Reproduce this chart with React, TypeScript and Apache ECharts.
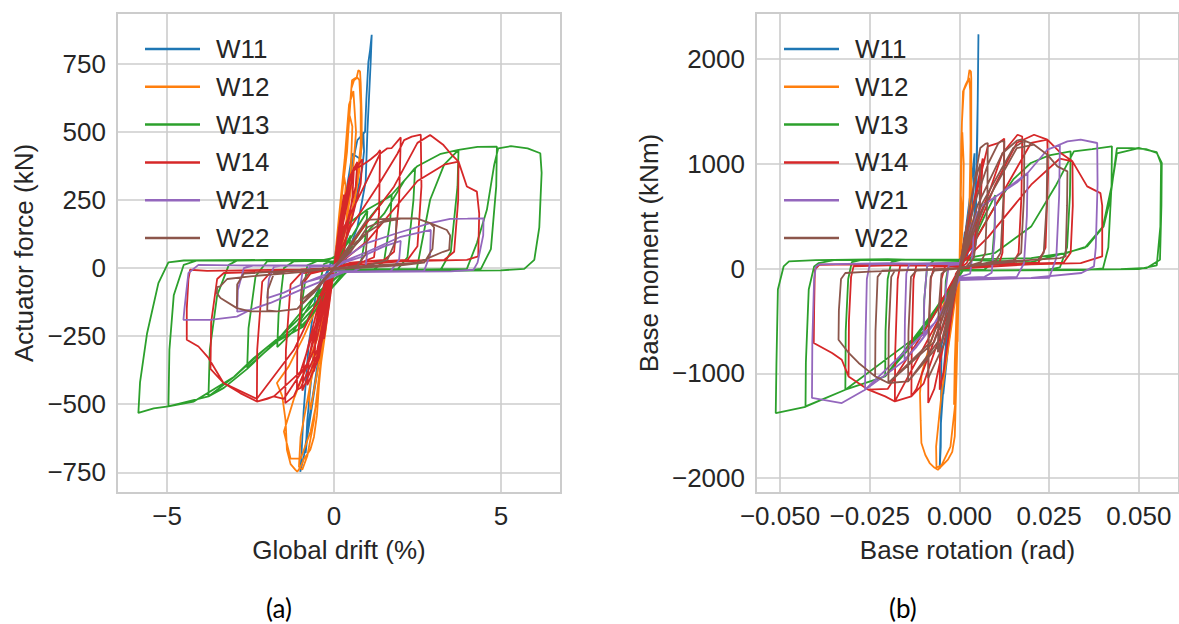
import React, { useEffect, useRef } from "react";
import * as echarts from "echarts";

const seriesNames = ["W11", "W12", "W13", "W14", "W21", "W22"];
const seriesColors = ["#1f77b4", "#ff7f0e", "#2ca02c", "#d62728", "#9467bd", "#8c564b"];

const driftTicks = [-5, 0, 5];
const forceTicks = [-750, -500, -250, 0, 250, 500, 750];
const rotationTicks = [-0.05, -0.025, 0, 0.025, 0.05];
const momentTicks = [-2000, -1000, 0, 1000, 2000];
const panelLabels = ["(a)", "(b)"];

type P = [number, number];

// ---------- Panel (a): global drift (%) vs actuator force (kN) ----------
const w11Drift: P[] = [
  [0, 0], [0.15, 120], [0.3, 260], [0.27, 200], [0.1, 40], [0, 0], [-0.15, -110], [-0.3, -250], [-0.27, -180], [-0.1, -30], [0, 0],
  [0.3, 230], [0.55, 420], [0.78, 402], [0.88, 500], [0.9, 430], [0.85, 370], [0.6, 220], [0.25, 40], [0, 0],
  [-0.3, -220], [-0.55, -420], [-0.8, -620], [-0.85, -680], [-0.8, -560], [-0.6, -300], [-0.3, -60], [-0.1, 20], [0, 10],
  [0.05, 60], [0.35, 260], [0.7, 470], [0.93, 500], [0.97, 620], [1.03, 757], [1.08, 800], [1.13, 857], [1.1, 760], [1.0, 500], [0.95, 320], [0.7, 150], [0.3, 20], [0, 0],
  [-0.4, -280], [-0.7, -520], [-0.9, -690], [-1.01, -748], [-0.98, -700], [-0.91, -527], [-0.76, -283], [-0.55, -100], [-0.2, -10], [0, 0],
];
const w12Drift: P[] = [
  [0, 0], [0.1, 110], [0.22, 260], [0.3, 340], [0.35, 300], [0.25, 150], [0.1, 30], [0, 0],
  [-0.1, -80], [-0.25, -230], [-0.4, -360], [-0.45, -300], [-0.3, -130], [-0.1, -20], [0, 0],
  [0.12, 150], [0.28, 330], [0.4, 480], [0.47, 560], [0.55, 520], [0.5, 350], [0.35, 150], [0.15, 30], [0, 0],
  [-0.2, -150], [-0.5, -380], [-0.7, -520], [-0.75, -470], [-0.55, -250], [-0.25, -60], [0, 0],
  [0.15, 190], [0.32, 400], [0.45, 600], [0.58, 650], [0.66, 500], [0.55, 330], [0.35, 140], [0.1, 20], [0, 0],
  [0.2, 230], [0.39, 427], [0.48, 600], [0.54, 690], [0.6, 695], [0.68, 700], [0.73, 727], [0.78, 722], [0.8, 680], [0.83, 560], [0.83, 451], [0.75, 350], [0.63, 256], [0.45, 150], [0.25, 60], [0, 0],
  [-0.4, -110], [-0.9, -250], [-1.35, -360], [-1.71, -422], [-1.55, -470], [-1.45, -560], [-1.41, -667], [-1.3, -720], [-1.16, -740], [-1.1, -748], [-1.0, -730], [-0.91, -703], [-0.71, -667], [-0.6, -620], [-0.51, -540], [-0.45, -430], [-0.35, -300], [-0.21, -165], [-0.1, -60], [0, 0],
  [0.2, 220], [0.4, 450], [0.52, 660], [0.6, 690], [0.7, 700], [0.76, 690], [0.8, 600], [0.8, 450], [0.65, 280], [0.4, 120], [0.1, 20], [0, 0],
  [-0.3, -200], [-0.7, -420], [-1.0, -620], [-1.05, -730], [-0.95, -740], [-0.8, -690], [-0.6, -560], [-0.45, -400], [-0.25, -180], [0, 0],
  [-0.5, -260], [-1.2, -480], [-1.5, -600], [-1.3, -700], [-1.0, -700], [-0.7, -600], [-0.5, -480], [-0.3, -250], [0, 0],
];
const w13Drift: P[] = [
  [0, 0], [0.25, 60], [0.5, 120], [0.45, 70], [0.3, 10], [0.1, -5], [0, -10], [-0.25, -60], [-0.5, -120], [-0.45, -70], [-0.3, 15], [-0.1, 25], [0, 20],
  [0.4, 90], [0.8, 170], [1.0, 210], [0.95, 120], [0.8, 15], [0.5, -5], [0.1, -10], [-0.4, -100], [-0.8, -190], [-1.0, -215], [-0.95, -120], [-0.8, 10], [-0.5, 26], [0, 25],
  [0.5, 80], [1.1, 190], [1.5, 250], [1.73, 270], [1.68, 170], [1.5, 25], [1.2, -5], [0.3, -10], [-0.5, -90], [-1.2, -230], [-1.7, -290], [-1.66, -170], [-1.5, 0], [-1.2, 25], [-0.2, 28],
  [0.6, 80], [1.5, 200], [2.1, 320], [2.43, 368], [2.38, 250], [2.2, 40], [1.9, -5], [0.3, -10], [-0.7, -120], [-1.8, -280], [-2.6, -365], [-2.56, -220], [-2.35, -30], [-2.0, 25], [-0.3, 30],
  [0.1, 40], [0.33, 155], [1.0, 215], [1.68, 263], [2.48, 373], [3.2, 420], [3.73, 434], [3.7, 300], [3.5, 60], [3.2, -5], [0.4, -10],
  [-1.0, -200], [-2.0, -300], [-2.6, -370], [-3.3, -440], [-3.76, -471], [-3.72, -300], [-3.5, -100], [-3.15, 12], [-2.9, 28], [-0.3, 30],
  [0.5, -5], [2.48, -3], [2.88, 251], [3.3, 380], [3.73, 434], [4.3, 445], [4.88, 446], [4.86, 300], [4.7, 70], [4.4, -3], [4.0, -8], [0.4, -12],
  [-1.5, -240], [-2.4, -330], [-3.0, -400], [-4.2, -490], [-4.96, -508], [-4.93, -300], [-4.8, -100], [-4.5, 12], [-4.1, 28], [-0.3, 30],
  [0.5, -8], [3.98, -3], [4.28, 92], [4.58, 214], [4.8, 380], [4.92, 440], [5.3, 448], [5.8, 440], [6.18, 422], [6.22, 350], [6.15, 150], [6.0, 30], [5.7, -3], [5.0, -8], [3.0, -10], [0.3, -12],
  [-0.91, -214], [-2.0, -290], [-3.0, -400], [-3.76, -471], [-4.96, -508], [-5.4, -515], [-5.86, -532], [-5.81, -420], [-5.6, -240], [-5.26, -55], [-4.96, 21], [-4.5, 28], [-2, 30], [-0.3, 30], [0, 20],
];
const w14Drift: P[] = [
  [0, 0], [0.15, 150], [0.3, 270], [0.25, 180], [0.05, 10], [0, 0], [-0.15, -140], [-0.3, -260], [-0.25, -170], [-0.05, -10], [0, 0],
  [0.3, 250], [0.6, 370], [0.55, 260], [0.3, 60], [0, 0], [-0.3, -240], [-0.6, -380], [-0.55, -250], [-0.3, -60], [0, 0],
  [0.45, 330], [0.7, 390], [0.65, 300], [0.3, 120], [0, 0], [-0.45, -330], [-0.8, -430], [-0.75, -330], [-0.4, -120], [0, 0],
  [0.5, 340], [0.85, 400], [0.8, 310], [0.45, 140], [0, 0], [-0.5, -320], [-0.95, -450], [-0.9, -350], [-0.5, -150], [0, 0],
  [0.6, 360], [0.93, 385], [1.1, 400], [1.3, 420], [1.38, 434], [1.35, 200], [1.2, 40], [0.9, 25], [0.3, 10], [0, 0],
  [-0.5, -300], [-1.0, -440], [-1.11, -447], [-1.1, -300], [-0.95, -60], [-0.7, -20], [0, 0],
  [0.3, 150], [0.9, 300], [1.38, 420], [1.6, 440], [1.73, 441], [1.93, 470], [2.0, 480], [1.95, 250], [1.8, 60], [1.5, 30], [0.5, 20], [0, 0],
  [-0.6, -300], [-1.2, -470], [-1.46, -496], [-1.44, -300], [-1.3, -60], [-1.0, -20], [0, 0],
  [0.5, 150], [1.3, 300], [1.9, 420], [2.1, 470], [2.33, 483], [2.6, 490], [2.62, 300], [2.5, 80], [2.2, 30], [0.5, 20], [0, 0],
  [-0.8, -350], [-1.5, -480], [-1.81, -471], [-2.0, -480], [-2.31, -490], [-2.3, -300], [-2.15, -50], [-1.9, -15], [0, -5],
  [0.7, 120], [1.8, 300], [2.5, 460], [2.88, 489], [3.28, 452], [3.5, 420], [3.73, 391], [3.72, 250], [3.6, 60], [3.3, 30], [1.0, 25], [0, 0],
  [-1.0, -380], [-1.8, -471], [-2.31, -490], [-2.81, -459], [-3.31, -422], [-3.7, -370], [-3.68, -200], [-3.5, -40], [-3.3, -18], [-1, -10], [0, 0],
  [1.0, 100], [2.5, 320], [3.3, 380], [3.73, 391], [3.98, 300], [4.28, 281], [4.35, 200], [4.32, 43], [3.98, 30], [2.0, 25], [0, 5],
  [-1.2, -300], [-2.31, -480], [-3.31, -422], [-3.76, -330], [-4.06, -288], [-4.41, -263], [-4.41, -150], [-4.36, -40], [-4.31, -6], [-3.8, -10], [-1, -5], [0, 0],
];
const w21Drift: P[] = [
  [0, 0], [0.4, 30], [1.0, 60], [0.95, 10], [0.6, -10], [0, -12], [-0.4, -30], [-1.0, -60], [-0.95, -20], [-0.7, 5], [0, 8],
  [0.8, 40], [1.5, 80], [2.0, 100], [1.95, 30], [1.7, -10], [0.3, -14], [-0.8, -50], [-1.5, -90], [-2.0, -110], [-1.95, -40], [-1.8, 5], [-1.5, 10], [0, 10],
  [1.0, 60], [2.0, 115], [2.9, 140], [2.88, 50], [2.7, -10], [0.3, -14], [-1.0, -80], [-1.9, -128], [-2.5, -153], [-2.9, -160], [-2.88, -80], [-2.7, 0], [-2.4, 10], [0, 10],
  [0.98, 92], [1.88, 128], [2.88, 165], [3.48, 181], [4.0, 182], [4.48, 183], [4.47, 120], [4.3, 20], [4.18, -6], [3.5, -12], [0.3, -15],
  [-1.0, -80], [-1.91, -128], [-2.5, -153], [-2.91, -178], [-3.71, -190], [-4.51, -190], [-4.48, -150], [-4.4, -60], [-4.36, -18], [-4.06, 12], [-3, 10], [0, 8],
];
const w22Drift: P[] = [
  [0, 0], [0.5, 80], [1.0, 130], [0.95, 50], [0.7, 10], [0, -5], [-0.5, -70], [-1.0, -120], [-0.95, -50], [-0.7, -10], [0, 0],
  [0.5, 60], [1.0, 150], [1.5, 175], [1.87, 183], [1.85, 100], [1.6, 30], [1.0, 10], [0, -5],
  [-0.6, -90], [-1.1, -150], [-1.71, -159], [-2.0, -155], [-1.98, -80], [-1.8, -20], [-1.4, -10], [0, 0],
  [0.98, 130], [1.5, 170], [2.0, 182], [2.47, 183], [2.88, 165], [3.0, 150], [2.95, 70], [2.7, 20], [2.0, 10], [0, -5],
  [-1.1, -150], [-1.71, -159], [-2.51, -159], [-2.91, -147], [-2.9, -60], [-2.7, -20], [-2.0, -15], [0, 0],
  [0.98, 177], [1.87, 183], [2.47, 183], [2.88, 165], [3.38, 140], [3.48, 120], [3.45, 67], [3.27, 60], [2.5, 20], [0, 0],
  [-1.1, -150], [-1.71, -159], [-2.51, -159], [-2.91, -147], [-3.4, -110], [-3.51, -92], [-3.5, -70], [-3.41, -67], [-3.2, -40], [-2.5, -30], [-1, -15], [0, 0],
];

// ---------- Panel (b): base rotation (rad) vs base moment (kNm) ----------
const w11Rot: P[] = [
  [0, 0], [0.0008, 150], [0.0015, 350], [0.0013, 250], [0.0005, 50], [0, 0], [-0.0008, -150], [-0.0015, -350], [-0.0013, -250], [-0.0004, -40], [0, 0],
  [0.0015, 300], [0.003, 700], [0.0042, 1100], [0.004, 800], [0.003, 400], [0.001, 50], [0, 0],
  [-0.0015, -300], [-0.003, -700], [-0.0045, -1200], [-0.0042, -900], [-0.003, -400], [-0.001, -60], [0, 0],
  [0.002, 150], [0.0045, 224], [0.0047, 700], [0.005, 1300], [0.0053, 2235], [0.0051, 1600], [0.0047, 900], [0.004, 400], [0.002, 100], [0, 0],
  [-0.002, -300], [-0.004, -900], [-0.0052, -1500], [-0.0055, -1908], [-0.0052, -1700], [-0.005, -730], [-0.004, -600], [-0.002, -150], [0, 0],
];
const w12Rot: P[] = [
  [0, 0], [0.0002, 300], [0.0004, 700], [0.0006, 600], [0.0004, 200], [0, 0], [-0.0003, -300], [-0.0005, -700], [-0.0006, -500], [-0.0003, -100], [0, 0],
  [0.0003, 500], [0.0006, 1100], [0.0008, 1300], [0.0012, 1000], [0.001, 500], [0.0004, 100], [0, 0],
  [-0.0005, -500], [-0.001, -1000], [-0.0015, -1300], [-0.0013, -900], [-0.0007, -300], [0, 0],
  [0.0002, 400], [0.0005, 1200], [0.001, 1688], [0.0018, 1760], [0.0024, 1800], [0.0028, 1895], [0.0032, 1880], [0.0033, 1815], [0.0033, 1000], [0.0033, 383], [0.0025, 200], [0.001, 50], [0, 0],
  [-0.004, -300], [-0.008, -700], [-0.0105, -1000], [-0.011, -1189], [-0.0108, -1450], [-0.0106, -1666], [-0.0095, -1780], [-0.0083, -1857], [-0.007, -1900], [-0.006, -1921], [-0.0045, -1870], [-0.0032, -1825], [-0.002, -1750], [-0.0013, -1603], [-0.0008, -1000], [-0.0004, -457], [0, 0],
  [0.0003, 600], [0.0007, 1400], [0.0012, 1700], [0.002, 1760], [0.0027, 1820], [0.003, 1700], [0.0031, 1200], [0.0028, 600], [0.0015, 150], [0, 0],
  [-0.002, -500], [-0.005, -1200], [-0.0065, -1700], [-0.0064, -1900], [-0.005, -1880], [-0.0025, -1700], [-0.0012, -1300], [-0.0005, -500], [0, 0],
];
const w13Rot: P[] = [
  [0, 0], [0.002, 150], [0.004, 300], [0.0038, 150], [0.003, 10], [0.001, -10], [0, -10], [-0.002, -150], [-0.004, -280], [-0.0038, -120], [-0.003, 40], [-0.001, 80], [0, 70],
  [0.003, 200], [0.007, 500], [0.01, 700], [0.0098, 400], [0.009, 50], [0.007, -10], [0.001, -15], [-0.003, -200], [-0.0078, -457], [-0.01, -600], [-0.0098, -300], [-0.009, 20], [-0.007, 80], [0, 80],
  [0.004, 250], [0.01, 600], [0.015, 850], [0.0199, 1007], [0.025, 1080], [0.031, 1118], [0.0308, 700], [0.03, 200], [0.028, 10], [0.024, -15], [0.001, -20],
  [-0.005, -300], [-0.0143, -775], [-0.0207, -1030], [-0.0206, -600], [-0.02, -100], [-0.019, 60], [-0.016, 85], [0, 85],
  [0.01, 150], [0.02, 400], [0.027, 800], [0.0319, 1118], [0.037, 1140], [0.0425, 1166], [0.0424, 800], [0.0415, 200], [0.04, 0], [0.035, -15], [0.001, -20],
  [-0.008, -450], [-0.0207, -1030], [-0.0318, -1157], [-0.0317, -600], [-0.031, -100], [-0.03, 60], [-0.027, 85], [0, 85],
  [0.02, 100], [0.03, 150], [0.0356, 211], [0.0402, 402], [0.042, 657], [0.0439, 1150], [0.048, 1150], [0.052, 1140], [0.055, 1103], [0.0564, 1007], [0.0563, 600], [0.0559, 84], [0.0522, 5], [0.045, -5], [0.03, -10], [0.001, -20],
  [-0.01, -600], [-0.0207, -1030], [-0.0318, -1157], [-0.0429, -1316], [-0.0428, -900], [-0.042, -200], [-0.0405, 20], [-0.0392, 52], [-0.035, 80], [0, 85],
  [0.02, 60], [0.035, 200], [0.04, 400], [0.0425, 800], [0.0439, 1100], [0.05, 1150], [0.055, 1110], [0.0562, 1000], [0.056, 400], [0.055, 30], [0.05, -5], [0, -20],
  [-0.01, -600], [-0.0318, -1157], [-0.0429, -1320], [-0.0512, -1380], [-0.051, -900], [-0.0506, -200], [-0.049, 20], [-0.0475, 68], [-0.04, 80], [-0.02, 90], [0, 70],
];
const w14Rot: P[] = [
  [0, 0], [0.0015, 300], [0.003, 600], [0.0025, 400], [0.001, 50], [0, 0], [-0.0015, -300], [-0.003, -600], [-0.0025, -400], [-0.001, -50], [0, 0],
  [0.002, 300], [0.005, 800], [0.0065, 1050], [0.006, 700], [0.004, 200], [0.002, 50], [0, 0], [-0.002, -400], [-0.0045, -1000], [-0.0055, -1157], [-0.0054, -700], [-0.005, -100], [-0.004, 20], [0, 10],
  [0.002, 300], [0.006, 900], [0.0079, 1166], [0.011, 1200], [0.0125, 1240], [0.0124, 700], [0.012, 150], [0.011, 40], [0.005, 30], [0, 0],
  [-0.003, -500], [-0.007, -1150], [-0.0087, -1284], [-0.0086, -700], [-0.008, -100], [-0.007, 20], [0, 15],
  [0.003, 300], [0.008, 700], [0.012, 1100], [0.0162, 1277], [0.0175, 1260], [0.0173, 700], [0.0165, 150], [0.015, 50], [0.005, 35], [0, 0],
  [-0.004, -500], [-0.01, -1100], [-0.0134, -1221], [-0.0133, -800], [-0.0128, -100], [-0.012, 30], [0, 20],
  [0.004, 300], [0.01, 800], [0.016, 1200], [0.0208, 1277], [0.0245, 1230], [0.0247, 900], [0.024, 200], [0.022, 55], [0.01, 40], [0, 0],
  [-0.005, -500], [-0.012, -1150], [-0.0134, -1221], [-0.018, -1269], [-0.0179, -800], [-0.0172, -100], [-0.0165, 30], [0, 25],
  [0.005, 300], [0.015, 900], [0.02, 1200], [0.0245, 1230], [0.0282, 1103], [0.0315, 1023], [0.0316, 600], [0.031, 150], [0.029, 55], [0.01, 40], [0, 0],
  [-0.006, -500], [-0.018, -1269], [-0.0207, -1221], [-0.0254, -1157], [-0.0309, -1030], [-0.0308, -500], [-0.0302, -80], [-0.0295, 20], [-0.02, 30], [0, 30],
  [0.008, 300], [0.02, 800], [0.028, 1050], [0.0315, 1023], [0.0356, 784], [0.0393, 720], [0.0398, 600], [0.0398, 115], [0.0338, 52], [0.02, 40], [0, 0],
  [-0.008, -500], [-0.02, -1150], [-0.0254, -1157], [-0.0309, -1030], [-0.0328, -871], [-0.0355, -807], [-0.0406, -711], [-0.0405, -400], [-0.0403, -11], [-0.039, 36], [-0.03, 40], [0, 35],
];
const w21Rot: P[] = [
  [0, 0], [0.002, 300], [0.004, 450], [0.0038, 200], [0.003, -50], [0, -80], [-0.002, -300], [-0.004, -450], [-0.0038, -200], [-0.003, 30], [0, 40],
  [0.003, 400], [0.006, 593], [0.01, 680], [0.0098, 300], [0.009, -40], [0.007, -80], [0, -90], [-0.003, -350], [-0.0069, -520], [-0.01, -650], [-0.0098, -300], [-0.009, 30], [-0.007, 50], [0, 45],
  [0.006, 593], [0.0116, 720], [0.016, 820], [0.019, 912], [0.0188, 500], [0.018, 50], [0.016, -80], [0, -100],
  [-0.0069, -520], [-0.012, -750], [-0.0153, -870], [-0.0152, -500], [-0.0148, -50], [-0.014, 40], [0, 50],
  [0.006, 593], [0.0116, 720], [0.019, 912], [0.0245, 1134], [0.028, 1180], [0.0278, 700], [0.027, 100], [0.025, -90], [0, -100],
  [-0.0069, -520], [-0.015, -870], [-0.02, -1000], [-0.0263, -1157], [-0.0262, -700], [-0.0258, -100], [-0.025, 40], [0, 55],
  [0.006, 593], [0.0116, 720], [0.019, 912], [0.0245, 1134], [0.0301, 1213], [0.0338, 1230], [0.0384, 1198], [0.0385, 800], [0.038, 200], [0.0375, 20], [0.034, -43], [0.02, -90], [0, -110],
  [-0.0069, -520], [-0.0263, -1157], [-0.0328, -1284], [-0.0411, -1236], [-0.041, -700], [-0.0405, -100], [-0.04, 20], [-0.039, 40], [-0.02, 50], [0, 40],
];
const w22Rot: P[] = [
  [0, 0], [0.002, 400], [0.004, 800], [0.0058, 1000], [0.0056, 500], [0.004, 100], [0.002, 20], [0, 0],
  [-0.002, -300], [-0.004, -600], [-0.006, -800], [-0.0058, -400], [-0.005, -50], [-0.003, 0], [0, 0],
  [0.003, 600], [0.0058, 1150], [0.0072, 1190], [0.0079, 1198], [0.0078, 700], [0.0072, 150], [0.006, 60], [0, 0],
  [-0.004, -700], [-0.0087, -1046], [-0.0086, -600], [-0.008, -80], [-0.007, -20], [0, 0],
  [0.004, 600], [0.008, 1000], [0.0109, 1200], [0.0116, 1213], [0.0125, 1215], [0.0123, 700], [0.0115, 150], [0.01, 70], [0, 0],
  [-0.005, -700], [-0.0143, -1078], [-0.0142, -600], [-0.0135, -80], [-0.012, -20], [0, 0],
  [0.005, 600], [0.012, 1100], [0.016, 1220], [0.0171, 1230], [0.0181, 1220], [0.018, 700], [0.0172, 150], [0.015, 80], [0, 10],
  [-0.006, -700], [-0.0143, -1078], [-0.0198, -1093], [-0.0197, -600], [-0.019, -80], [-0.018, -20], [0, 0],
  [0.006, 600], [0.015, 1150], [0.0181, 1220], [0.0208, 1182], [0.0236, 1110], [0.0245, 1087], [0.0243, 600], [0.0235, 150], [0.022, 90], [0, 10],
  [-0.007, -700], [-0.0198, -1093], [-0.0235, -1030], [-0.0234, -600], [-0.0228, -80], [-0.0215, -20], [0, 0],
  [0.007, 600], [0.016, 1150], [0.0208, 1182], [0.0245, 1087], [0.0273, 975], [0.0301, 927], [0.03, 600], [0.0296, 115], [0.028, 100], [0.01, 60], [0, 10],
  [-0.008, -700], [-0.0198, -1093], [-0.0235, -1030], [-0.0281, -902], [-0.031, -800], [-0.0337, -680], [-0.0336, -400], [-0.033, -100], [-0.0318, -43], [-0.025, -30], [-0.01, -10], [0, 0],
];

const panelAData = [w11Drift, w12Drift, w13Drift, w14Drift, w21Drift, w22Drift];
const panelBData = [w11Rot, w12Rot, w13Rot, w14Rot, w21Rot, w22Rot];

const FONT = '"Liberation Sans", Arial, sans-serif';
const TEXT = "#262626";
const GRID = "#cccccc";

const minus = (s: string) => s.replace("-", "\u2212");

export default function App() {
  const ref = useRef<HTMLDivElement>(null);

  useEffect(() => {
    if (!ref.current) return;
    const chart = echarts.init(ref.current, null, { renderer: "svg" });

    const labelStyle = { fontSize: 26, color: TEXT, fontFamily: FONT };
    const nameStyle = { fontSize: 26, color: TEXT, fontFamily: FONT };
    const split = { show: true, lineStyle: { color: GRID, width: 1.6 } };

    const makeSeries = (data: P[][], idx: number) =>
      data.map((d, i) => ({
        type: "line",
        name: seriesNames[i],
        data: d,
        xAxisIndex: idx,
        yAxisIndex: idx,
        showSymbol: false,
        symbol: "none",
        silent: true,
        clip: true,
        lineStyle: { color: seriesColors[i], width: 1.8 },
        itemStyle: { color: seriesColors[i] },
      }));

    const legendBase = {
      data: seriesNames,
      orient: "vertical",
      top: 31,
      itemWidth: 55,
      itemHeight: 2.5,
      itemGap: 11.8,
      icon: "rect",
      selectedMode: false,
      textStyle: { fontSize: 26, lineHeight: 26, color: TEXT, fontFamily: FONT, padding: [0, 0, 0, 11] },
    };

    const labelTitle = (text: string, left: number) => ({
      text,
      left,
      top: 595,
      padding: 0,
      textStyle: { fontSize: 26, fontWeight: "normal", color: "#000", fontFamily: "Lato, 'Open Sans', sans-serif" },
    });

    chart.setOption({
      animation: false,
      backgroundColor: "#ffffff",
      color: seriesColors,
      title: [labelTitle(panelLabels[0], 266), labelTitle(panelLabels[1], 889)],
      grid: [
        { left: 117, top: 13, width: 444, height: 480, show: true, borderColor: GRID, borderWidth: 2, backgroundColor: "transparent" },
        { left: 756, top: 13, width: 426, height: 480, show: true, borderColor: GRID, borderWidth: 2, backgroundColor: "transparent" },
      ],
      legend: [
        { ...legendBase, left: 140 },
        { ...legendBase, left: 779 },
      ],
      xAxis: [
        {
          gridIndex: 0, type: "value", min: -6.5, max: 6.8,
          axisLine: { show: false },
          axisTick: { show: false, customValues: driftTicks },
          axisLabel: { ...labelStyle, margin: 10, customValues: driftTicks, formatter: (v: number) => minus(String(v)) },
          splitLine: split,
          name: "Global drift (%)", nameLocation: "middle", nameGap: 44, nameTextStyle: nameStyle,
        },
        {
          gridIndex: 1, type: "value", min: -0.0567, max: 0.0612,
          axisLine: { show: false },
          axisTick: { show: false, customValues: rotationTicks },
          axisLabel: { ...labelStyle, margin: 10, customValues: rotationTicks, formatter: (v: number) => minus(v.toFixed(3)) },
          splitLine: split,
          name: "Base rotation (rad)", nameLocation: "middle", nameGap: 44, nameTextStyle: nameStyle,
        },
      ],
      yAxis: [
        {
          gridIndex: 0, type: "value", min: -826, max: 937,
          axisLine: { show: false },
          axisTick: { show: false, customValues: forceTicks },
          axisLabel: { ...labelStyle, margin: 11, customValues: forceTicks, formatter: (v: number) => minus(String(v)) },
          splitLine: split,
          name: "Actuator force (kN)", nameLocation: "middle", nameGap: 80, nameTextStyle: nameStyle,
        },
        {
          gridIndex: 1, type: "value", min: -2143, max: 2439,
          axisLine: { show: false },
          axisTick: { show: false, customValues: momentTicks },
          axisLabel: { ...labelStyle, margin: 11, customValues: momentTicks, formatter: (v: number) => minus(String(v)) },
          splitLine: split,
          name: "Base moment (kNm)", nameLocation: "middle", nameGap: 94, nameTextStyle: nameStyle,
        },
      ],
      series: [...makeSeries(panelAData, 0), ...makeSeries(panelBData, 1)],
    });

    return () => chart.dispose();
  }, []);

  return (
    <div
      ref={ref}
      style={{ position: "absolute", left: 0, top: 0, width: 1179, height: 624, background: "#ffffff" }}
    />
  );
}
